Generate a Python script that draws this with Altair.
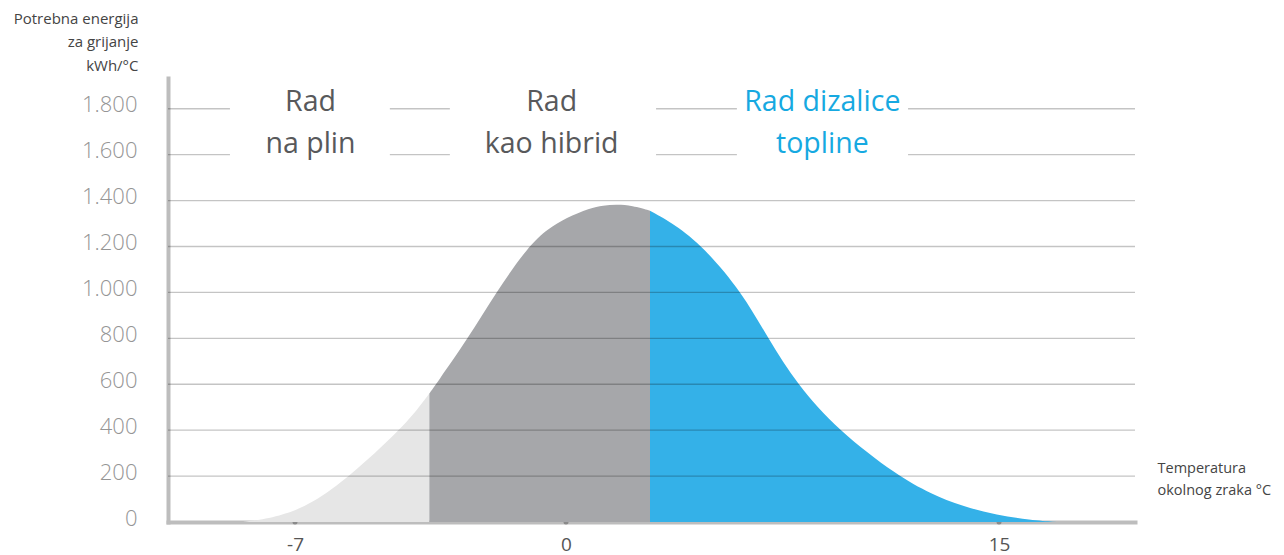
import altair as alt
import pandas as pd

# ---- data ----
temps = [-8.34, -7.39, -6.54, -5.58, -4.29, -3.77, -3.53, -3.36, -2.53, -1.81,
         -0.98, -0.46, 0.0, 0.83, 1.28, 1.77, 2.29, 2.91, 3.78, 4.75,
         6.10, 7.00, 8.00, 9.42, 11.50, 12.61, 13.75, 14.93, 16.07, 17.0]
energy = [0, 23, 81, 200, 400, 505, 560, 600, 800, 1000,
          1200, 1278, 1325, 1368, 1379, 1383, 1378, 1356, 1295, 1200,
          1000, 800, 600, 400, 200, 125, 67, 30, 9, 0]
gas_end = -3.53
hybrid_end = 2.91

series_names = ["Rad na plin", "Rad kao hibrid", "Rad dizalice topline"]
series_colors = ["#e6e6e6", "#a6a7aa", "#34b1e8"]

label_texts = ["Rad\nna plin", "Rad\nkao hibrid", "Rad dizalice\ntopline"]
label_t = [-6.60, -0.37, 8.88]
label_e = [1790, 1790, 1790]
box_lo = [-8.68, -3.0, 5.92]
box_hi = [-4.55, 3.12, 11.85]
box_bottom = [1520, 1520, 1520]
box_top = [1900, 1900, 1900]

x_ticks = [-7, 0, 15]
y_ticks = [0, 200, 400, 600, 800, 1000, 1200, 1400, 1600, 1800]
grid_vals = [200, 400, 600, 800, 1000, 1200, 1400, 1600, 1800]

# ---- tables ----
rows = []
for t, e in zip(temps, energy):
    if t <= gas_end:
        rows.append((t, e, series_names[0]))
    if gas_end <= t <= hybrid_end:
        rows.append((t, e, series_names[1]))
    if t >= hybrid_end:
        rows.append((t, e, series_names[2]))
curve = pd.DataFrame(rows, columns=["t", "e", "s"])

labels = pd.DataFrame({"t": label_t, "e": label_e, "txt": label_texts,
                       "name": series_names})
boxes = pd.DataFrame({"t": box_lo, "t2": box_hi, "e": box_bottom, "e2": box_top})
ticks_df = pd.DataFrame({"t": x_ticks, "e": [0] * len(x_ticks)})
grid_df = pd.DataFrame({"e": grid_vals})

FONT = "Open Sans"

xscale = alt.Scale(domain=[-10.28, -7, 0, 15, 19.71],
                   range=[0, 127, 398, 831, 967], zero=False, nice=False)
yscale = alt.Scale(domain=[0, 1934], zero=False, nice=False)

xaxis = alt.Axis(values=x_ticks, grid=False, ticks=False, tickSize=0,
                 domainColor="#bdbdbd", domainWidth=4, domainCap="square",
                 labelFont=FONT, labelFontSize=19, labelColor="#555555",
                 labelPadding=13, labelExpr="'' + datum.value",
                 title=["Temperatura", "okolnog zraka °C"],
                 titleFont=FONT, titleFontSize=14.5, titleFontWeight="normal",
                 titleColor="#444444", titleAlign="left", titleBaseline="top",
                 titleAngle=0, titleX=989, titleY=-61, titleLineHeight=22.5)
yaxis = alt.Axis(values=y_ticks, grid=False, ticks=False, tickSize=0,
                 domainColor="#bdbdbd", domainWidth=4, domainCap="square",
                 labelFont=FONT, labelFontSize=22, labelFontWeight=300,
                 labelColor="#959595", labelPadding=31, labelOffset=-4,
                 labelBaseline="middle",
                 labelExpr="replace(format(datum.value, ','), ',', '.')",
                 title=["Potrebna energija", "za grijanje", "kWh/°C"],
                 titleFont=FONT, titleFontSize=15, titleFontWeight="normal",
                 titleColor="#444444", titleAlign="right", titleBaseline="top",
                 titleAngle=0, titleX=-30, titleY=-67, titleLineHeight=23.7)

x_enc = alt.X("t:Q", scale=xscale, axis=xaxis)
y_enc = alt.Y("e:Q", scale=yscale, axis=yaxis, stack=None)

dots = alt.Chart(ticks_df).mark_circle(size=25, color="#8a8a8a", opacity=1).encode(
    x=x_enc, y=y_enc)

areas = alt.Chart(curve).mark_area(interpolate="basis", opacity=1).encode(
    x=x_enc, y=y_enc,
    color=alt.Color("s:N", scale=alt.Scale(domain=series_names, range=series_colors),
                    legend=None),
    detail="s:N")

grid = alt.Chart(grid_df).mark_rule(color="black", opacity=0.23, strokeWidth=1.3).encode(
    y=y_enc)

wboxes = alt.Chart(boxes).mark_rect(color="white", opacity=1).encode(
    x=x_enc, x2="t2:Q", y=y_enc, y2="e2:Q")

texts = alt.Chart(labels).mark_text(font=FONT, fontSize=28.5, lineBreak="\n",
                                    lineHeight=42, align="center",
                                    baseline="alphabetic").encode(
    x=x_enc, y=y_enc, text="txt:N",
    color=alt.condition(alt.datum.name == "Rad dizalice topline",
                        alt.value("#16a9e1"), alt.value("#58595b")))

chart = alt.layer(dots, areas, grid, wboxes, texts).properties(
    width=967, height=444,
    autosize=alt.AutoSizeParams(type="none"),
    padding={"left": 160, "top": 70, "right": 141, "bottom": 33},
    background="white",
).configure_view(stroke=None)

chart.save("out.html", embed_options={"renderer": "svg", "actions": False})
